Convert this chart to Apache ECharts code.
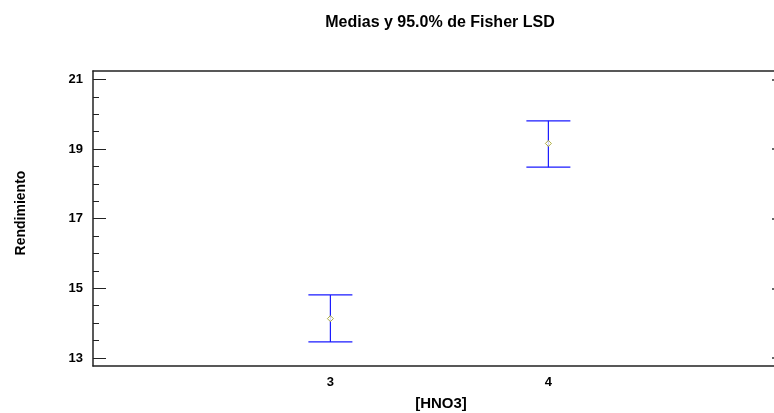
<!DOCTYPE html>
<html>
<head>
<meta charset="utf-8">
<script src="https://cdn.jsdelivr.net/npm/echarts@6/dist/echarts.min.js"></script>
<style>
  html, body { margin: 0; padding: 0; background: #fff; }
  #chart { width: 774px; height: 413px; }
</style>
</head>
<body>
<div id="chart"></div>
<script>
// Factor levels and LSD intervals of Rendimiento per [HNO3] level
const levels = [3, 4];
const means = [14.13, 19.16];
const lower = [13.46, 18.48];
const upper = [14.81, 19.81];

// Axis tick values
const yMajorTicks = [13, 15, 17, 19, 21];
const yMinorTicks = [13.5, 14, 14.5, 15.5, 16, 16.5, 17.5, 18, 18.5, 19.5, 20, 20.5];

const FONT = '"Liberation Sans", Arial, sans-serif';
const yMin = 12.77, yMax = 21.24;
const xMin = 1.911, xMax = 5.035;

const intervals = levels.map((lv, i) => [lv, lower[i], upper[i]]);
const points = levels.map((lv, i) => [lv, means[i]]);

const chart = echarts.init(document.getElementById('chart'), null, { renderer: 'canvas' });

const yBase = {
  type: 'value', min: yMin, max: yMax,
  splitLine: { show: false }
};

chart.setOption({
  animation: false,
  backgroundColor: '#fff',
  title: {
    text: 'Medias y 95.0% de Fisher LSD',
    left: 435, top: 10, textAlign: 'center',
    textStyle: { fontFamily: FONT, fontWeight: 'bold', fontSize: 16, color: '#000' }
  },
  graphic: [
    {
      type: 'text', x: 441, y: 404,
      style: { text: '[HNO3]', font: 'bold 15px ' + FONT, fill: '#000', align: 'center', verticalAlign: 'middle' }
    },
    {
      type: 'text', x: 21, y: 213, rotation: Math.PI / 2,
      style: { text: 'Rendimiento', font: 'bold 14px ' + FONT, fill: '#000', align: 'center', verticalAlign: 'middle' }
    }
  ],
  grid: { left: 93, right: 0, top: 71, bottom: 47 },
  xAxis: [
    {
      type: 'value', min: xMin, max: xMax, position: 'bottom',
      axisLine: { show: true, lineStyle: { color: '#222', width: 1.5 } },
      axisTick: { show: false },
      axisLabel: {
        customValues: levels, margin: 10,
        fontFamily: FONT, fontWeight: 'bold', fontSize: 13, color: '#000'
      },
      splitLine: { show: false }
    },
    {
      type: 'value', min: xMin, max: xMax, position: 'top',
      axisLine: { show: true, lineStyle: { color: '#222', width: 1.5 } },
      axisTick: { show: false }, axisLabel: { show: false }, splitLine: { show: false }
    }
  ],
  yAxis: [
    Object.assign({}, yBase, {
      position: 'left',
      axisLine: { show: true, lineStyle: { color: '#222', width: 1.5 } },
      axisTick: { show: true, inside: true, length: 13, customValues: yMajorTicks, lineStyle: { color: '#222', width: 1 } },
      axisLabel: { customValues: yMajorTicks, margin: 10, fontFamily: FONT, fontWeight: 'bold', fontSize: 13, color: '#000' }
    }),
    Object.assign({}, yBase, {
      position: 'left',
      axisLine: { show: false },
      axisTick: { show: true, inside: true, length: 6, customValues: yMinorTicks, lineStyle: { color: '#222', width: 1 } },
      axisLabel: { show: false }
    }),
    Object.assign({}, yBase, {
      position: 'right',
      axisLine: { show: false },
      axisTick: { show: true, inside: true, length: 2, customValues: yMajorTicks, lineStyle: { color: '#333', width: 1.5 } },
      axisLabel: { show: false }
    })
  ],
  series: [
    {
      type: 'custom',
      xAxisIndex: 0, yAxisIndex: 0,
      data: intervals,
      renderItem: function (params, api) {
        const x = api.value(0);
        const lo = api.coord([x, api.value(1)]);
        const hi = api.coord([x, api.value(2)]);
        const half = 22;
        const style = { stroke: '#1a1aff', lineWidth: 1.2 };
        return {
          type: 'group',
          children: [
            { type: 'line', shape: { x1: hi[0], y1: hi[1], x2: lo[0], y2: lo[1] }, style: style },
            { type: 'line', shape: { x1: hi[0] - half, y1: hi[1], x2: hi[0] + half, y2: hi[1] }, style: style },
            { type: 'line', shape: { x1: lo[0] - half, y1: lo[1], x2: lo[0] + half, y2: lo[1] }, style: style }
          ]
        };
      },
      z: 2
    },
    {
      type: 'scatter',
      xAxisIndex: 0, yAxisIndex: 0,
      data: points,
      symbol: 'diamond', symbolSize: 6,
      itemStyle: { color: '#ffffff', borderColor: '#9a9a10', borderWidth: 1 },
      z: 3
    }
  ]
});
</script>
</body>
</html>
